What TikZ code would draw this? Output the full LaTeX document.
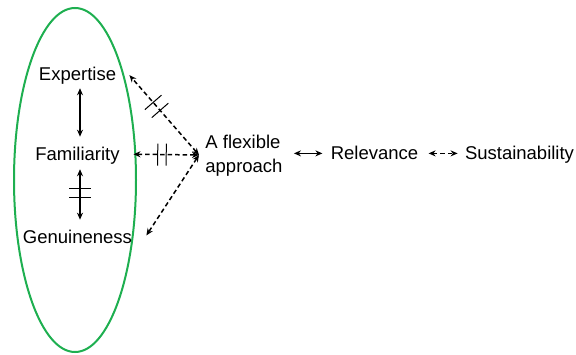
\documentclass[tikz,border=0pt]{standalone}
\usepackage{fontspec}
\setmainfont{Liberation Sans}
\usetikzlibrary{arrows.meta,decorations.markings}
\definecolor{ringgreen}{RGB}{30,175,80}

\begin{document}
\begin{tikzpicture}[x=1pt, y=1pt, thick,
    main/.style = {inner sep=0pt, font=\fontsize{18.5}{24}\selectfont},
    link/.style = {{Stealth[length=7pt,width=6pt]}-{Stealth[length=7pt,width=6pt]}, line width=1.5pt},
    loose/.style = {link, dash pattern=on 4.5pt off 3pt},
    tick/.style 2 args = {postaction={decorate, decoration={markings,
        mark=at position #1 with {\draw[-, solid, line width=1pt] (0,-11pt) -- (0,11pt);},
        mark=at position #2 with {\draw[-, solid, line width=1pt] (0,-11pt) -- (0,11pt);}}}}]
    \useasboundingbox (0,0) rectangle (576,354);
    \draw[ringgreen, line width=2pt] (75,174) ellipse [x radius=61pt, y radius=172pt];
    \node[main, anchor=base] (exp) at (77.5,273) {Expertise};
    \node[main, anchor=base] (fam) at (77.5,193) {Familiarity};
    \node[main, anchor=base] (gen) at (77.5,111) {Genuineness};
    \node[main, anchor=west, align=left] (flex) at (205,198) {A flexible\\approach};
    \node[main, anchor=base] (rel) at (374.5,194) {Relevance};
    \node[main, anchor=base] (sus) at (519.5,194) {Sustainability};
    \coordinate (hub) at ([shift={(-6pt,1pt)}]flex.west);
    \draw[link] ([shift={(2.5pt,-3pt)}]exp.south) -- ([shift={(2.5pt,10.5pt)}]fam.north);
    \draw[link, tick={0.39}{0.57}] ([shift={(2.5pt,-4pt)}]fam.south) -- ([shift={(2.5pt,9.5pt)}]gen.north);
    \draw[loose, tick={0.56}{0.66}] (hub) -- ([shift={(13pt,1pt)}]exp.east);
    \draw[loose, tick={0.5}{0.63}] (hub) -- ([shift={(13.4pt,2pt)}]fam.east);
    \draw[loose] (hub) -- ([shift={(14pt,1pt)}]gen.east);
    \draw[link, shorten <=11pt, shorten >=8pt] (flex.east |- rel.west) -- (rel.west);
    \draw[loose, shorten <=10pt, shorten >=7pt] (rel.east) -- (rel.east -| sus.west);
\end{tikzpicture}
\end{document}
